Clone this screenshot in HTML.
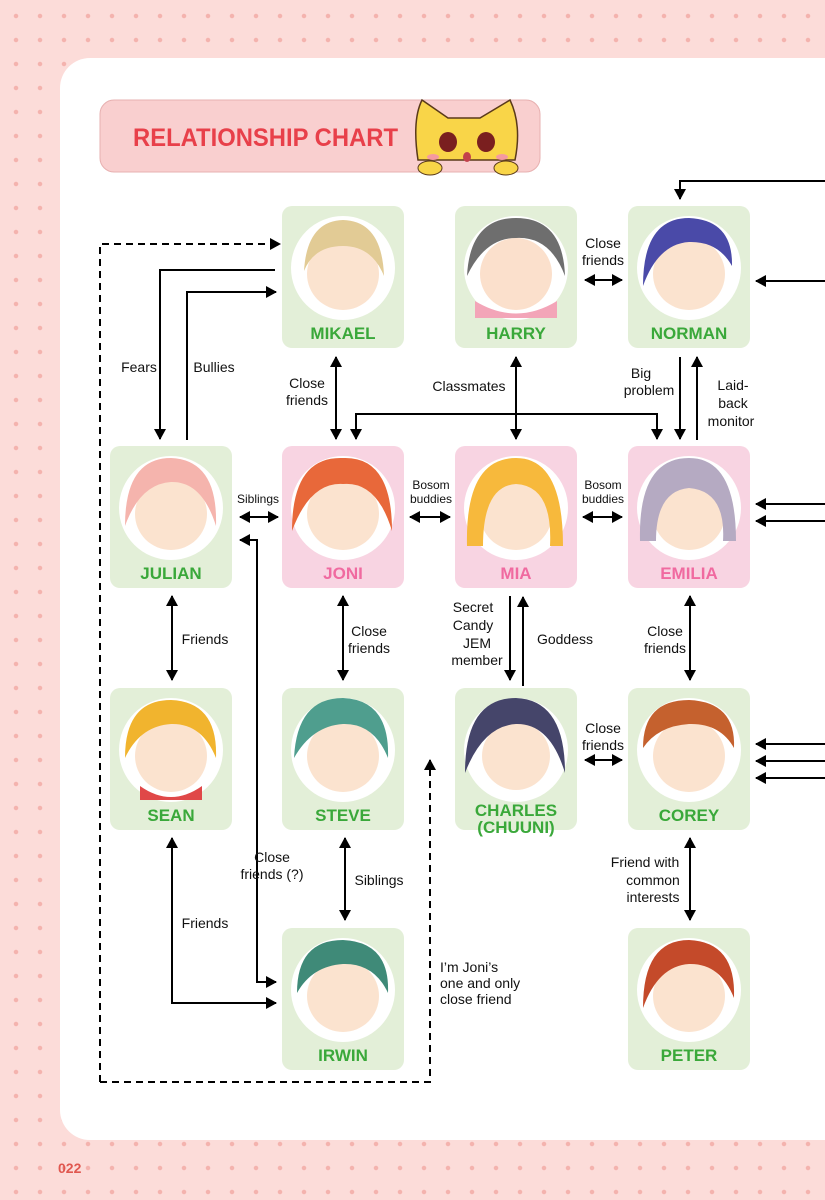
<!DOCTYPE html>
<html><head><meta charset="utf-8"><style>
html,body{margin:0;padding:0}
body{width:825px;height:1200px;overflow:hidden;background-color:#fcdcd9;background-image:radial-gradient(circle,#f4b3ae 2px,transparent 2.5px);background-size:24px 24px;background-position:4px 4px;font-family:"Liberation Sans",sans-serif;position:relative}
.card{position:absolute;left:60px;top:58px;width:820px;height:1082px;background:#fff;border-radius:30px}
.pg{position:absolute;left:58px;top:1160px;color:#e0574f;font:bold 14px "Liberation Sans",sans-serif}
svg{position:absolute;left:0;top:0}
</style></head><body>
<div class="card"></div>
<div class="pg">022</div>
<svg width="825" height="1200" viewBox="0 0 825 1200" font-family="Liberation Sans, sans-serif">
<defs>
<marker id="b" markerWidth="12" markerHeight="12" refX="10" refY="6" orient="auto-start-reverse" markerUnits="userSpaceOnUse"><path d="M0,0 L11,6 L0,12 z" fill="#000"/></marker>
</defs>
<!-- title -->
<rect x="100" y="100" width="440" height="72" rx="14" fill="#f9cfcf" stroke="#e7b0b0"/>
<text x="133" y="146" font-size="25" font-weight="bold" fill="#e8404a" textLength="265" lengthAdjust="spacingAndGlyphs">RELATIONSHIP CHART</text>
<g>
<path d="M418,160 Q412,120 422,100 L448,118 L480,118 L510,100 Q522,125 515,160 Z" fill="#f9d548" stroke="#5a3a1a" stroke-width="1.5"/>
<ellipse cx="448" cy="142" rx="9" ry="10" fill="#7a1f1f"/><ellipse cx="486" cy="142" rx="9" ry="10" fill="#7a1f1f"/>
<ellipse cx="433" cy="157" rx="6" ry="3" fill="#f59aa0"/><ellipse cx="502" cy="157" rx="6" ry="3" fill="#f59aa0"/>
<ellipse cx="467" cy="157" rx="4" ry="5" fill="#c2414b"/>
<ellipse cx="430" cy="168" rx="12" ry="7" fill="#f9d548" stroke="#5a3a1a"/><ellipse cx="506" cy="168" rx="12" ry="7" fill="#f9d548" stroke="#5a3a1a"/>
</g>
<!-- connectors -->
<g stroke="#000" stroke-width="2" fill="none">
<path d="M100,1082 L100,244 L280,244" stroke-dasharray="7,5" marker-end="url(#b)"/>
<path d="M100,1082 L430,1082 L430,760" stroke-dasharray="7,5" marker-end="url(#b)"/>
<path d="M275,270 L160,270 L160,439" marker-end="url(#b)"/>
<path d="M187,440 L187,292 L276,292" marker-end="url(#b)"/>
<path d="M336,357 L336,439" marker-start="url(#b)" marker-end="url(#b)"/>
<path d="M516,357 L516,439" marker-start="url(#b)" marker-end="url(#b)"/>
<path d="M356,439 L356,414 L657,414 L657,439" marker-start="url(#b)" marker-end="url(#b)"/>
<path d="M585,280 L622,280" marker-start="url(#b)" marker-end="url(#b)"/>
<path d="M680,357 L680,439" marker-end="url(#b)"/>
<path d="M697,440 L697,357" marker-end="url(#b)"/>
<path d="M825,181 L680,181 L680,199" marker-end="url(#b)"/>
<path d="M825,281 L756,281" marker-end="url(#b)"/>
<path d="M825,504 L756,504" marker-end="url(#b)"/>
<path d="M825,521 L756,521" marker-end="url(#b)"/>
<path d="M825,744 L756,744" marker-end="url(#b)"/>
<path d="M825,761 L756,761" marker-end="url(#b)"/>
<path d="M825,778 L756,778" marker-end="url(#b)"/>
<path d="M240,517 L278,517" marker-start="url(#b)" marker-end="url(#b)"/>
<path d="M410,517 L450,517" marker-start="url(#b)" marker-end="url(#b)"/>
<path d="M583,517 L622,517" marker-start="url(#b)" marker-end="url(#b)"/>
<path d="M172,596 L172,680" marker-start="url(#b)" marker-end="url(#b)"/>
<path d="M343,596 L343,680" marker-start="url(#b)" marker-end="url(#b)"/>
<path d="M510,596 L510,680" marker-end="url(#b)"/>
<path d="M523,686 L523,597" marker-end="url(#b)"/>
<path d="M690,596 L690,680" marker-start="url(#b)" marker-end="url(#b)"/>
<path d="M585,760 L622,760" marker-start="url(#b)" marker-end="url(#b)"/>
<path d="M690,838 L690,920" marker-start="url(#b)" marker-end="url(#b)"/>
<path d="M345,838 L345,920" marker-start="url(#b)" marker-end="url(#b)"/>
<path d="M172,838 L172,1003 L276,1003" marker-start="url(#b)" marker-end="url(#b)"/>
<path d="M240,540 L257,540 L257,982 L276,982" marker-start="url(#b)" marker-end="url(#b)"/>
</g>
<!-- labels -->
<g font-size="14" fill="#111" text-anchor="middle">
<text x="139" y="372">Fears</text>
<text x="214" y="372">Bullies</text>
<text x="307" y="388">Close</text><text x="307" y="405">friends</text>
<text x="469" y="391">Classmates</text>
<text x="603" y="248">Close</text><text x="603" y="265">friends</text>
<text x="641" y="378">Big</text><text x="649" y="395">problem</text>
<text x="733" y="390">Laid-</text><text x="733" y="408">back</text><text x="731" y="426">monitor</text>
<text x="258" y="503" font-size="12">Siblings</text>
<text x="431" y="489" font-size="12">Bosom</text><text x="431" y="503" font-size="12">buddies</text>
<text x="603" y="489" font-size="12">Bosom</text><text x="603" y="503" font-size="12">buddies</text>
<text x="205" y="644">Friends</text>
<text x="369" y="636">Close</text><text x="369" y="653">friends</text>
<text x="473" y="612">Secret</text><text x="473" y="630">Candy</text><text x="477" y="648">JEM</text><text x="477" y="665">member</text>
<text x="565" y="644">Goddess</text>
<text x="665" y="636">Close</text><text x="665" y="653">friends</text>
<text x="603" y="733">Close</text><text x="603" y="750">friends</text>
<text x="645" y="867">Friend with</text><text x="653" y="885">common</text><text x="653" y="902">interests</text>
<text x="379" y="885">Siblings</text>
<text x="272" y="862">Close</text><text x="272" y="879">friends (?)</text>
<text x="205" y="928">Friends</text>
<text x="440" y="972" text-anchor="start">I’m Joni’s</text>
<text x="440" y="988" text-anchor="start">one and only</text>
<text x="440" y="1004" text-anchor="start">close friend</text>
</g>
<!-- nodes -->
<g font-weight="bold" font-size="17" text-anchor="middle">
<g transform="translate(282,206)"><rect width="122" height="142" rx="10" fill="#e3efd8"/><circle cx="61" cy="62" r="52" fill="#fff"/><circle cx="61" cy="68" r="36" fill="#fbe3cf"/><path d="M22,65 Q25,15 61,14 Q100,15 102,70 Q90,40 61,40 Q32,40 22,65Z" fill="#e2cb95"/><text x="61" y="133" fill="#3aa83a">MIKAEL</text></g>
<g transform="translate(455,206)"><rect width="122" height="142" rx="10" fill="#e3efd8"/><circle cx="61" cy="62" r="52" fill="#fff"/><circle cx="61" cy="68" r="36" fill="#fbe0cc"/><path d="M12,70 Q15,12 61,12 Q108,12 110,70 Q95,30 61,32 Q30,32 12,70Z" fill="#6e6e6e"/><path d="M20,95 Q61,120 102,95 L102,112 L20,112Z" fill="#f3a5b8"/><text x="61" y="133" fill="#3aa83a">HARRY</text></g>
<g transform="translate(628,206)"><rect width="122" height="142" rx="10" fill="#e3efd8"/><circle cx="61" cy="62" r="52" fill="#fff"/><circle cx="61" cy="68" r="36" fill="#fbe3cf"/><path d="M15,80 Q15,12 61,12 Q105,14 104,60 Q90,35 61,36 Q30,38 15,80Z" fill="#4a4aa8"/><text x="61" y="133" fill="#3aa83a">NORMAN</text></g>
<g transform="translate(110,446)"><rect width="122" height="142" rx="10" fill="#e3efd8"/><circle cx="61" cy="62" r="52" fill="#fff"/><circle cx="61" cy="68" r="36" fill="#fbe3cf"/><path d="M15,80 Q15,12 61,12 Q108,14 106,80 Q92,35 61,36 Q30,38 15,80Z" fill="#f5b4ad"/><text x="61" y="133" fill="#3aa83a">JULIAN</text></g>
<g transform="translate(282,446)"><rect width="122" height="142" rx="10" fill="#f8d4e2"/><circle cx="61" cy="62" r="52" fill="#fff"/><circle cx="61" cy="68" r="36" fill="#fbe3cf"/><path d="M10,85 Q10,10 61,12 Q110,10 110,85 Q95,35 61,38 Q28,36 10,85Z" fill="#e8683a"/><text x="61" y="133" fill="#f06aa0">JONI</text></g>
<g transform="translate(455,446)"><rect width="122" height="142" rx="10" fill="#f8d4e2"/><circle cx="61" cy="62" r="52" fill="#fff"/><circle cx="61" cy="68" r="36" fill="#fbe3cf"/><path d="M12,100 Q10,12 61,12 Q108,12 108,100 L95,100 Q98,40 61,38 Q28,40 28,100Z" fill="#f7b93c"/><text x="61" y="133" fill="#f06aa0">MIA</text></g>
<g transform="translate(628,446)"><rect width="122" height="142" rx="10" fill="#f8d4e2"/><circle cx="61" cy="62" r="52" fill="#fff"/><circle cx="61" cy="68" r="36" fill="#fbe3cf"/><path d="M12,95 Q10,12 61,12 Q108,12 108,95 L95,95 Q98,45 61,42 Q28,45 28,95Z" fill="#b5aac2"/><text x="61" y="133" fill="#f06aa0">EMILIA</text></g>
<g transform="translate(110,688)"><rect width="122" height="142" rx="10" fill="#e3efd8"/><circle cx="61" cy="62" r="52" fill="#fff"/><circle cx="61" cy="68" r="36" fill="#fbe3cf"/><path d="M15,70 Q15,12 61,12 Q108,14 106,70 Q92,35 61,36 Q30,38 15,70Z" fill="#f1b42e"/><path d="M30,98 Q61,120 92,98 L92,112 L30,112Z" fill="#e04848"/><text x="61" y="133" fill="#3aa83a">SEAN</text></g>
<g transform="translate(282,688)"><rect width="122" height="142" rx="10" fill="#e3efd8"/><circle cx="61" cy="62" r="52" fill="#fff"/><circle cx="61" cy="68" r="36" fill="#fbe3cf"/><path d="M12,70 Q15,10 61,10 Q108,12 106,70 Q92,35 61,36 Q30,38 12,70Z" fill="#4f9e8e"/><text x="61" y="133" fill="#3aa83a">STEVE</text></g>
<g transform="translate(455,688)"><rect width="122" height="142" rx="10" fill="#e3efd8"/><circle cx="61" cy="62" r="52" fill="#fff"/><circle cx="61" cy="68" r="34" fill="#fbe3cf"/><path d="M10,85 Q10,10 61,10 Q110,12 110,85 Q95,35 61,36 Q28,38 10,85Z" fill="#45456a"/><text x="61" y="128" fill="#3aa83a">CHARLES</text><text x="61" y="145" fill="#3aa83a">(CHUUNI)</text></g>
<g transform="translate(628,688)"><rect width="122" height="142" rx="10" fill="#e3efd8"/><circle cx="61" cy="62" r="52" fill="#fff"/><circle cx="61" cy="68" r="36" fill="#fbe3cf"/><path d="M15,60 Q15,12 61,12 Q108,14 106,60 Q92,35 61,36 Q30,38 15,60Z" fill="#c5612e"/><text x="61" y="133" fill="#3aa83a">COREY</text></g>
<g transform="translate(282,928)"><rect width="122" height="142" rx="10" fill="#e3efd8"/><circle cx="61" cy="62" r="52" fill="#fff"/><circle cx="61" cy="68" r="36" fill="#fbe3cf"/><path d="M15,65 Q15,12 61,12 Q108,14 106,65 Q92,35 61,36 Q30,38 15,65Z" fill="#3f8a78"/><text x="61" y="133" fill="#3aa83a">IRWIN</text></g>
<g transform="translate(628,928)"><rect width="122" height="142" rx="10" fill="#e3efd8"/><circle cx="61" cy="62" r="52" fill="#fff"/><circle cx="61" cy="68" r="36" fill="#fbe3cf"/><path d="M15,80 Q15,12 61,12 Q108,14 106,70 Q92,35 61,36 Q30,38 15,80Z" fill="#c44a2a"/><text x="61" y="133" fill="#3aa83a">PETER</text></g>
</g>
</svg>
</body></html>
